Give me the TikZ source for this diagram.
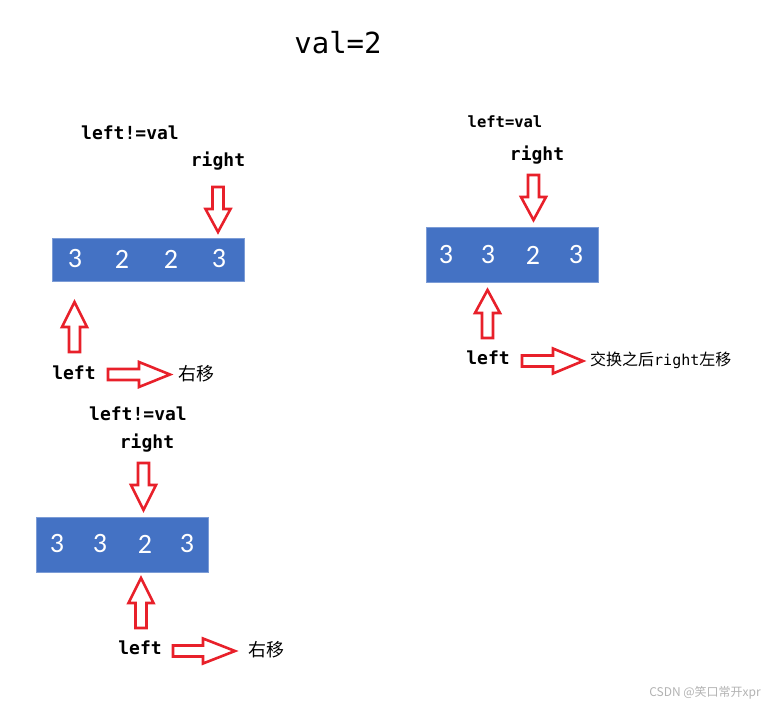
\documentclass[tikz,border=0pt]{standalone}
\usepackage{fontspec}
\setmonofont{DejaVu Sans Mono}
\newfontfamily\digitfont{Carlito}
\newfontfamily\cjk{Noto Sans CJK SC}
\definecolor{cellblue}{HTML}{4472C4}
\definecolor{markred}{HTML}{E8202A}
% hollow block arrow: start point, direction angle, total length, head length
\newcommand{\hollowarrow}[4]{%
  \draw[hollow, shift={#1}, rotate=#2]
    (0,-5.5) -- (#3-#4,-5.5) -- (#3-#4,-12.5) -- (#3,0)
    -- (#3-#4,12.5) -- (#3-#4,5.5) -- (0,5.5) -- cycle;}
\tikzset{
  hollow/.style={draw=markred, fill=white, line width=2.6pt, line join=miter},
  arraybox/.style={fill=cellblue, draw=cellblue!70!white, line width=0.6pt,
    minimum width=#1, inner sep=0pt},
  digit/.style={text=white, font=\digitfont\fontsize{28}{30}\selectfont, inner sep=0pt},
  label/.style={font=\ttfamily\bfseries\fontsize{18}{20}\selectfont, inner sep=0pt},
  small/.style={font=\ttfamily\bfseries\fontsize{15.5}{18}\selectfont, inner sep=0pt},
  note/.style={font=\cjk\fontsize{18}{20}\selectfont, inner sep=0pt},
}
\begin{document}
\begin{tikzpicture}[x=1pt, y=-1pt]
\useasboundingbox (0,0) rectangle (768,706);

\node[font=\ttfamily\fontsize{29}{32}\selectfont, inner sep=0pt] (title) at (338,43) {val=2};

% first state: 3 2 2 3
\node[arraybox=192pt, minimum height=43pt] (box1) at (148,259.5) {};
\node[digit] (a1) at (75,259) {3};
\node[digit] (a2) at (122,259) {2};
\node[digit] (a3) at (171,259) {2};
\node[digit] (a4) at (219,259) {3};
\node[label] (cond1) at (130,133) {left!=val};
\node[label] (r1) at (218,161) {right};
\hollowarrow{(218,187)}{-90}{45}{23}
\hollowarrow{(74.5,352)}{90}{50}{25}
\node[label] (l1) at (74,373) {left};
\hollowarrow{(108,374.5)}{0}{62}{31}
\node[note, anchor=west] (m1) at (178,374) {右移};

% second state: 3 3 2 3
\node[arraybox=172pt, minimum height=55pt] (box2) at (512,255) {};
\node[digit] (b1) at (446,255) {3};
\node[digit] (b2) at (488,255) {3};
\node[digit] (b3) at (533,255) {2};
\node[digit] (b4) at (576,255) {3};
\node[small] (cond2) at (505,122) {left=val};
\node[label] (r2) at (537,155) {right};
\hollowarrow{(533.5,175)}{-90}{45}{23}
\hollowarrow{(487.5,338)}{90}{48}{23}
\node[label] (l2) at (488,358) {left};
\hollowarrow{(522,361)}{0}{61}{30}
\node[anchor=west, inner sep=0pt] (m2) at (590,360)
  {\cjk\fontsize{16}{18}\selectfont 交换之后{\ttfamily\fontsize{15}{18}\selectfont right}左移};

% third state: 3 3 2 3
\node[arraybox=172pt, minimum height=55pt] (box3) at (122,544.5) {};
\node[digit] (c1) at (57,544) {3};
\node[digit] (c2) at (100,544) {3};
\node[digit] (c3) at (145,544) {2};
\node[digit] (c4) at (187,544) {3};
\node[label] (cond3) at (138,414) {left!=val};
\node[label] (r3) at (147,443) {right};
\hollowarrow{(143.5,463)}{-90}{47}{25}
\hollowarrow{(141,628)}{90}{50}{25}
\node[label] (l3) at (140,648) {left};
\hollowarrow{(173,651)}{0}{62}{32}
\node[note, anchor=west] (m3) at (248,650) {右移};

\node[anchor=east, inner sep=0pt, text=black!30,
  font=\cjk\fontsize{12}{14}\selectfont] (mark) at (761,693) {CSDN @笑口常开xpr};
\end{tikzpicture}
\end{document}
